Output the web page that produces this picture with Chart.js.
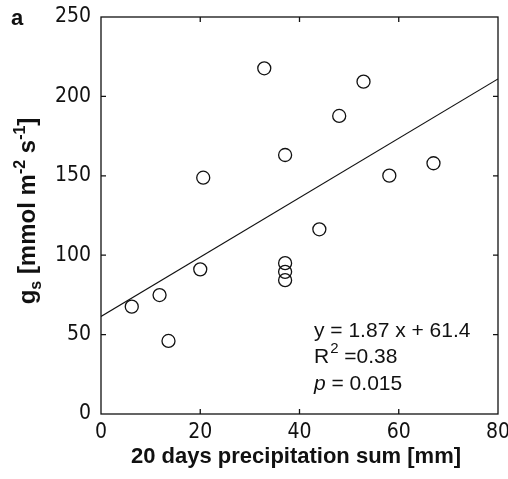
<!DOCTYPE html>
<html>
<head>
<meta charset="utf-8">
<script src="https://cdn.jsdelivr.net/npm/chart.js@4/dist/chart.umd.min.js"></script>
<style>
  html, body { margin: 0; padding: 0; background: #fff; }
  #wrap { width: 508px; height: 479px; position: relative; }
</style>
</head>
<body>
<div id="wrap"><canvas id="chart"></canvas></div>
<script>
// precipitation sum (mm) and stomatal conductance gs (mmol m-2 s-1)
const precip = [6.2, 11.8, 13.6, 20.0, 20.6, 32.9, 37.1, 37.1, 37.1, 37.1, 44.0, 48.0, 52.9, 58.1, 67.0];
const gs     = [67.6, 74.9, 46.0, 91.1, 148.8, 217.7, 163.1, 95.0, 89.5, 84.3, 116.3, 187.7, 209.3, 150.1, 157.9];
const slope = 1.87;
const intercept = 61.4;
const fitRange = [0, 80];
const xTicks = [0, 20, 40, 60, 80];
const yTicks = [0, 50, 100, 150, 200, 250];

const FONT = '"Liberation Sans", Arial, sans-serif';
const TICK_FONT = '"Liberation Sans Narrow", "Arial Narrow", "DejaVu Sans Condensed", "Liberation Sans", sans-serif';
const INK = '#111';

const points = precip.map((x, i) => ({ x: x, y: gs[i] }));
const fitLine = fitRange.map(x => ({ x: x, y: slope * x + intercept }));

// frame, inward ticks, axis titles, panel letter and the stats text
const decorations = {
    id: 'decorations',
    afterDraw(chart) {
        const ctx = chart.ctx;
        const a = chart.chartArea;
        const xs = chart.scales.x;
        const ys = chart.scales.y;
        const tl = 5;
        ctx.save();
        ctx.strokeStyle = INK;
        ctx.lineWidth = 1.3;
        ctx.strokeRect(a.left, a.top, a.right - a.left, a.bottom - a.top);
        ctx.beginPath();
        xTicks.slice(1, -1).forEach(v => {
            const px = xs.getPixelForValue(v);
            ctx.moveTo(px, a.bottom); ctx.lineTo(px, a.bottom - tl);
            ctx.moveTo(px, a.top); ctx.lineTo(px, a.top + tl);
        });
        yTicks.slice(1, -1).forEach(v => {
            const py = ys.getPixelForValue(v);
            ctx.moveTo(a.left, py); ctx.lineTo(a.left + tl, py);
            ctx.moveTo(a.right, py); ctx.lineTo(a.right - tl, py);
        });
        ctx.stroke();

        ctx.fillStyle = INK;
        ctx.textBaseline = 'alphabetic';
        // panel letter
        ctx.font = 'bold 22px ' + FONT;
        ctx.textAlign = 'left';
        ctx.fillText('a', 11, 25);

        // x title
        ctx.textAlign = 'center';
        ctx.fillText('20 days precipitation sum [mm]', 296, 463);

        // y title with sub/superscripts, rotated
        const parts = [
            { t: 'g', f: 'bold 24px ', dy: 0 },
            { t: 's', f: 'bold 16px ', dy: 6 },
            { t: ' [mmol m', f: 'bold 24px ', dy: 0 },
            { t: '-2', f: 'bold 16px ', dy: -10 },
            { t: ' s', f: 'bold 24px ', dy: 0 },
            { t: '-1', f: 'bold 16px ', dy: -10 },
            { t: ']', f: 'bold 24px ', dy: 0 }
        ];
        let total = 0;
        parts.forEach(p => { ctx.font = p.f + FONT; p.w = ctx.measureText(p.t).width; total += p.w; });
        ctx.save();
        ctx.translate(35, 211);
        ctx.rotate(-Math.PI / 2);
        ctx.textAlign = 'left';
        let cx = -total / 2;
        parts.forEach(p => {
            ctx.font = p.f + FONT;
            ctx.fillText(p.t, cx, p.dy);
            cx += p.w;
        });
        ctx.restore();

        // regression stats
        const sx = 314;
        ctx.textAlign = 'left';
        ctx.font = '21px ' + FONT;
        ctx.fillText('y = 1.87 x + 61.4', sx, 337);
        ctx.fillText('R', sx, 363);
        let w = ctx.measureText('R').width;
        ctx.font = '15px ' + FONT;
        ctx.fillText('2', sx + w + 1, 353);
        w += ctx.measureText('2').width + 1;
        ctx.font = '21px ' + FONT;
        ctx.fillText(' =0.38', sx + w, 363);
        ctx.font = 'italic 21px ' + FONT;
        ctx.fillText('p', sx, 390);
        w = ctx.measureText('p').width;
        ctx.font = '21px ' + FONT;
        ctx.fillText(' = 0.015', sx + w, 390);
        ctx.restore();
    }
};

new Chart(document.getElementById('chart'), {
    type: 'scatter',
    data: {
        datasets: [{
            data: points,
            pointStyle: 'circle',
            pointRadius: 6.5,
            pointHoverRadius: 6.5,
            borderColor: INK,
            borderWidth: 1.3,
            backgroundColor: 'rgba(0,0,0,0)'
        }, {
            type: 'line',
            data: fitLine,
            borderColor: INK,
            borderWidth: 1.1,
            pointRadius: 0,
            fill: false
        }]
    },
    options: {
        responsive: true,
        maintainAspectRatio: false,
        animation: false,
        layout: { padding: { top: 17, right: 10, left: 0, bottom: 0 } },
        plugins: { legend: { display: false }, tooltip: { enabled: false } },
        scales: {
            x: {
                type: 'linear',
                min: 0, max: 80,
                afterBuildTicks: s => { s.ticks = xTicks.map(v => ({ value: v })); },
                afterFit: s => { s.height = 65; s.paddingLeft = 0; s.paddingRight = 0; },
                grid: { display: false, drawTicks: false },
                border: { display: false },
                ticks: { color: INK, font: { family: TICK_FONT, size: 21 }, padding: 6, maxRotation: 0 }
            },
            y: {
                min: 0, max: 250,
                afterBuildTicks: s => { s.ticks = yTicks.map(v => ({ value: v })); },
                afterFit: s => { s.width = 101; s.paddingTop = 0; s.paddingBottom = 0; },
                grid: { display: false, drawTicks: false },
                border: { display: false },
                ticks: { color: INK, font: { family: TICK_FONT, size: 21 }, padding: 10 }
            }
        }
    },
    plugins: [decorations]
});
</script>
</body>
</html>
